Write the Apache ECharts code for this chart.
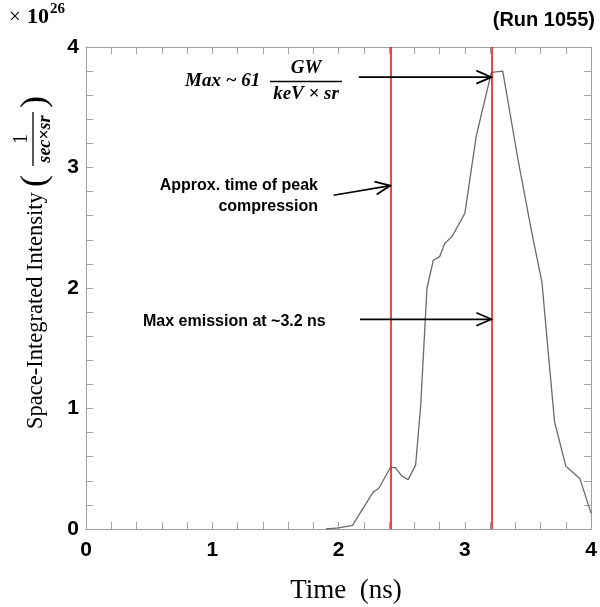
<!DOCTYPE html>
<html>
<head>
<meta charset="utf-8">
<script src="https://cdn.jsdelivr.net/npm/echarts@6/dist/echarts.min.js"></script>
<style>
html,body{margin:0;padding:0;background:#fff;}
#chart{width:600px;height:607px;}
</style>
</head>
<body>
<div id="chart"></div>
<script>
// ---- data ----
const timeNs = [1.90, 2.00, 2.11, 2.27, 2.32, 2.41, 2.45, 2.50, 2.55, 2.61, 2.65, 2.70, 2.75, 2.80, 2.84, 2.90, 3.00, 3.09, 3.21, 3.30, 3.42, 3.53, 3.61, 3.71, 3.80, 3.91, 4.00];
const intensity = [0.00, 0.01, 0.03, 0.30, 0.34, 0.51, 0.51, 0.44, 0.41, 0.53, 1.02, 2.00, 2.23, 2.26, 2.37, 2.43, 2.62, 3.26, 3.79, 3.80, 3.07, 2.46, 2.05, 0.89, 0.52, 0.42, 0.13];
const markerTimes = [2.41, 3.21];
const xTicks = [0, 1, 2, 3, 4];
const yTicks = [0, 1, 2, 3, 4];
// arrows: [x1, y1, x2, y2] in data units
const arrowMax = [2.16, 3.75, 3.21, 3.75];
const arrowPeak = [1.96, 2.77, 2.41, 2.85];
const arrowEmission = [2.17, 1.74, 3.21, 1.74];

const chart = echarts.init(document.getElementById('chart'), null, {renderer: 'canvas'});

const axisCol = '#a0a0a0';
const labelFont = {fontFamily: 'Liberation Sans, Arial, sans-serif', fontWeight: 'bold', fontSize: 21, color: '#000'};
function mkX(pos, showLabel) {
  return {
    type: 'value', position: pos, min: xTicks[0], max: xTicks[xTicks.length - 1], interval: 1,
    axisLine: {show: true, onZero: false, lineStyle: {color: axisCol, width: 1}},
    axisTick: {show: true, inside: true, length: 7, lineStyle: {color: axisCol}},
    minorTick: {show: true, splitNumber: 5, length: 7, lineStyle: {color: axisCol}},
    splitLine: {show: false},
    axisLabel: Object.assign({show: showLabel, margin: 11}, labelFont)
  };
}
function mkY(pos, showLabel) {
  return {
    type: 'value', position: pos, min: yTicks[0], max: yTicks[yTicks.length - 1], interval: 1,
    axisLine: {show: true, onZero: false, lineStyle: {color: axisCol, width: 1}},
    axisTick: {show: true, inside: true, length: 7, lineStyle: {color: axisCol}},
    minorTick: {show: true, splitNumber: 5, length: 7, lineStyle: {color: axisCol}},
    splitLine: {show: false},
    axisLabel: Object.assign({show: showLabel, margin: 7}, labelFont)
  };
}

const arrowItems = [arrowMax, arrowPeak, arrowEmission];

function renderArrow(params, api) {
  const p1 = api.coord([api.value(0), api.value(1)]);
  const p2 = api.coord([api.value(2), api.value(3)]);
  const dx = p2[0] - p1[0], dy = p2[1] - p1[1];
  const len = Math.sqrt(dx * dx + dy * dy);
  const ux = dx / len, uy = dy / len;
  const hl = 15, hw = 6.5;
  const a1 = [p2[0] - ux * hl - uy * hw, p2[1] - uy * hl + ux * hw];
  const a2 = [p2[0] - ux * hl + uy * hw, p2[1] - uy * hl - ux * hw];
  const st = {stroke: '#000', lineWidth: 1.7, fill: null};
  return {
    type: 'group',
    children: [
      {type: 'line', shape: {x1: p1[0], y1: p1[1], x2: p2[0], y2: p2[1]}, style: st},
      {type: 'polyline', shape: {points: [a1, p2, a2]}, style: st}
    ]
  };
}

const serif = 'Liberation Serif, Times New Roman, serif';
const sans = 'Liberation Sans, Arial, sans-serif';

const option = {
  animation: false,
  backgroundColor: '#fff',
  grid: {left: 86, right: 7, top: 47, bottom: 78, containLabel: false},
  xAxis: [mkX('bottom', true), mkX('top', false)],
  yAxis: [mkY('left', true), mkY('right', false)],
  series: [
    {
      type: 'line', xAxisIndex: 0, yAxisIndex: 0,
      data: timeNs.map((t, i) => [t, intensity[i]]),
      showSymbol: false, symbol: 'none',
      lineStyle: {color: '#6a6a6a', width: 1.3},
      z: 3,
      markLine: {
        silent: true, symbol: ['none', 'none'],
        label: {show: false},
        lineStyle: {color: '#ff0000', width: 1.5, type: 'solid', opacity: 1},
        emphasis: {disabled: true},
        data: markerTimes.map(t => ({xAxis: t, lineStyle: {color: '#ff0000'}}))
      }
    },
    {
      type: 'custom', xAxisIndex: 0, yAxisIndex: 0,
      renderItem: renderArrow,
      data: arrowItems,
      encode: {x: [0, 2], y: [1, 3]},
      z: 5, silent: true
    }
  ],
  graphic: [
    // x10^26
    {type: 'text', left: 9, top: 7, style: {text: '×', font: '21px ' + serif, fill: '#000'}},
    {type: 'text', left: 27, top: 6, style: {text: '10', font: 'bold 22px ' + serif, fill: '#000'}},
    {type: 'text', left: 50, top: 2, style: {text: '26', font: 'bold 15px ' + serif, fill: '#000'}},
    // Run label
    {type: 'text', right: 5, top: 10, style: {text: '(Run 1055)', font: 'bold 20px ' + sans, fill: '#000'}},
    // x axis title
    {type: 'text', x: 346, y: 591, style: {text: 'Time  (ns)', font: '27px ' + serif, fill: '#000', align: 'center', verticalAlign: 'middle'}},
    // y axis title group (rotated)
    {
      type: 'group', x: 36, y: 429, rotation: Math.PI / 2,
      children: [
        {type: 'text', x: 0, y: 0, style: {text: 'Space-Integrated Intensity', font: '22.5px ' + serif, fill: '#000', align: 'left', verticalAlign: 'middle'}},
        {type: 'text', x: 242, y: 0, style: {text: '(', font: '36px ' + serif, fill: '#000', align: 'left', verticalAlign: 'middle'}},
        {type: 'text', x: 290, y: -14, style: {text: '1', font: '20px ' + serif, fill: '#000', align: 'center', verticalAlign: 'middle'}},
        {type: 'line', shape: {x1: 263, y1: -3, x2: 317, y2: -3}, style: {stroke: '#000', lineWidth: 1.3}},
        {type: 'text', x: 290, y: 9, style: {text: 'sec×sr', font: 'italic bold 18px ' + serif, fill: '#000', align: 'center', verticalAlign: 'middle'}},
        {type: 'text', x: 321, y: 0, style: {text: ')', font: '36px ' + serif, fill: '#000', align: 'left', verticalAlign: 'middle'}}
      ]
    },
    // Max annotation
    {type: 'text', x: 185, y: 81, style: {text: 'Max ~ 61', font: 'italic bold 19px ' + serif, fill: '#000', align: 'left', verticalAlign: 'middle'}},
    {type: 'text', x: 306, y: 68, style: {text: 'GW', font: 'italic bold 19px ' + serif, fill: '#000', align: 'center', verticalAlign: 'middle'}},
    {type: 'line', shape: {x1: 270, y1: 81.5, x2: 342, y2: 81.5}, style: {stroke: '#000', lineWidth: 1.3}},
    {type: 'text', x: 306, y: 94, style: {text: 'keV × sr', font: 'italic bold 19px ' + serif, fill: '#000', align: 'center', verticalAlign: 'middle'}},
    // peak compression
    {type: 'text', x: 318, y: 186, style: {text: 'Approx. time of peak', font: 'bold 16px ' + sans, fill: '#000', align: 'right', verticalAlign: 'middle'}},
    {type: 'text', x: 318, y: 207, style: {text: 'compression', font: 'bold 16px ' + sans, fill: '#000', align: 'right', verticalAlign: 'middle'}},
    // emission
    {type: 'text', x: 143, y: 322, style: {text: 'Max emission at ~3.2 ns', font: 'bold 16px ' + sans, fill: '#000', align: 'left', verticalAlign: 'middle'}}
  ]
};
chart.setOption(option);
</script>
</body>
</html>
